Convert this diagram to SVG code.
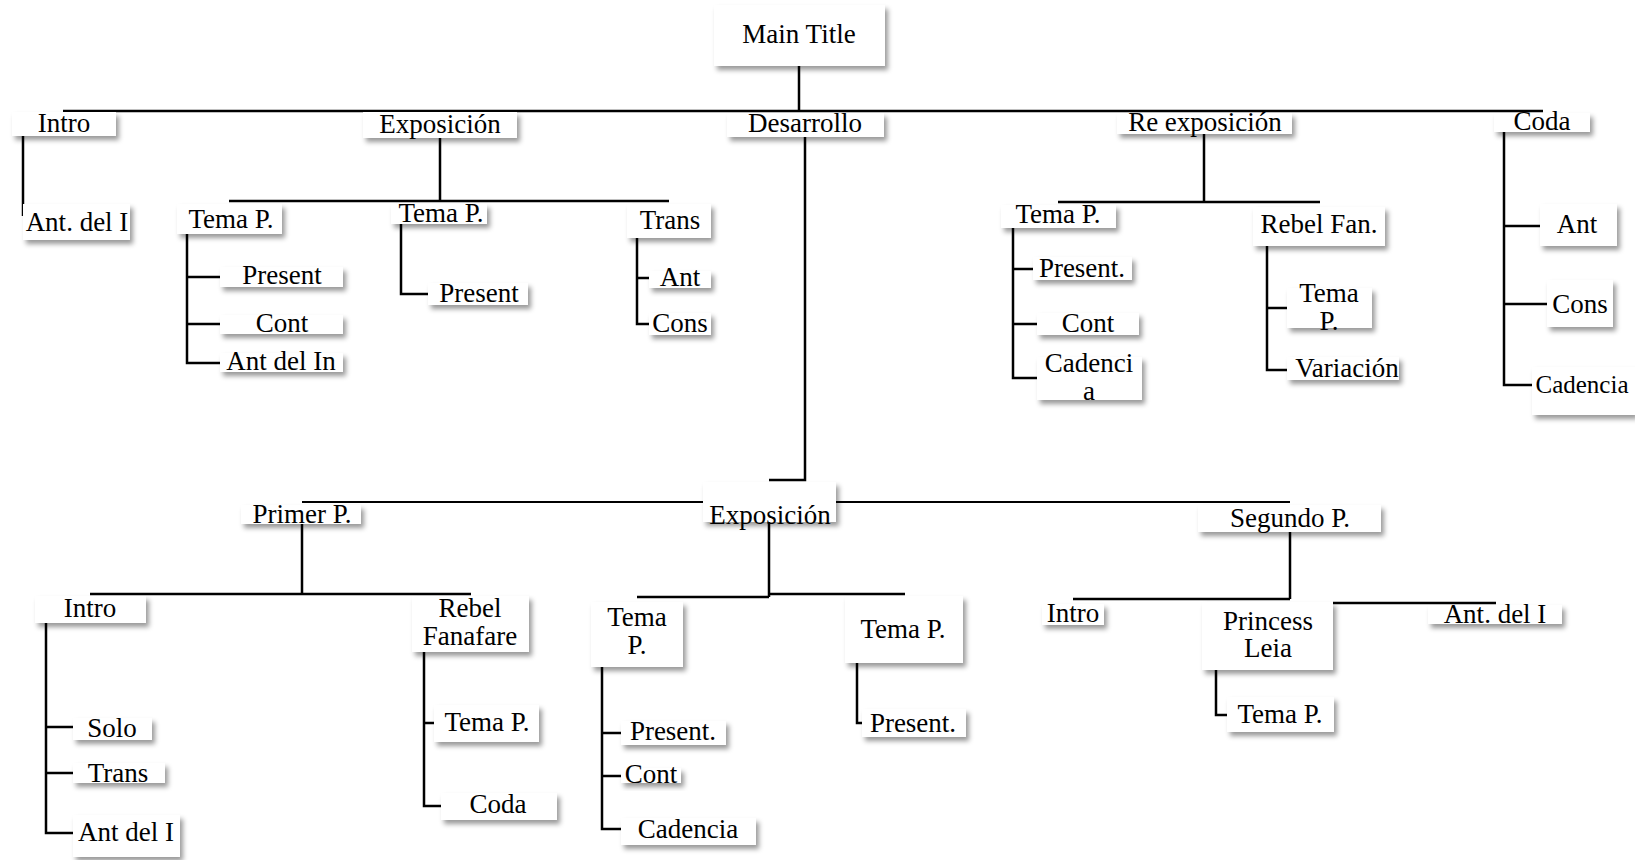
<svg xmlns="http://www.w3.org/2000/svg" width="1635" height="860" viewBox="0 0 1635 860">
<defs>
<filter id="sh" x="-20%" y="-30%" width="150%" height="180%">
<feDropShadow dx="3" dy="4" stdDeviation="2.5" flood-color="#000" flood-opacity="0.4"/>
</filter>
<style>
.n rect{fill:#fff;filter:url(#sh)}
.n text{font-family:"Liberation Serif","Times New Roman",serif;font-size:27px;fill:#000;text-anchor:middle}
.c path{fill:none;stroke:#000;stroke-width:2.5}
</style>
</defs>
<rect width="1635" height="860" fill="#fff"/>
<g id="connectors" class="c">
<path d="M799,66 V111"/>
<path d="M63,111 H1543"/>
<path d="M23,136 V216"/>
<path d="M440,138 V201 M229,201 H669"/>
<path d="M187,234 V363 H220 M187,277 H220 M187,324 H220"/>
<path d="M401,224 V294 H428"/>
<path d="M637,238 V324 H649 M637,278 H649"/>
<path d="M805,137 V480 H769"/>
<path d="M1204,134 V202 M1058,202 H1320"/>
<path d="M1013,228 V378 H1037 M1013,269 H1033 M1013,324 H1037"/>
<path d="M1267,246 V370 H1287 M1267,308 H1287"/>
<path d="M1504,132 V385 H1532 M1504,226 H1540 M1504,304 H1547"/>
<path d="M302,502 H1290" style="stroke-width:2"/>
<path d="M302,524 V594 M90,594 H471"/>
<path d="M46,623 V833 H73 M46,727 H73 M46,773 H73"/>
<path d="M424,652 V806 H441 M424,723 H434"/>
<path d="M769,522 V597 M637,597 H769 M769,594 H905"/>
<path d="M602,667 V829 H621 M602,733 H621 M602,776 H621"/>
<path d="M857,663 V723 H862"/>
<path d="M1290,532 V599 M1073,599 H1290"/>
<path d="M1333,603 H1496"/>
<path d="M1216,670 V715 H1227"/>
</g>
<g id="main" class="n"><rect x="714" y="5" width="171" height="61"/><text x="799" y="43">Main Title</text></g>
<g id="intro1" class="n"><rect x="12" y="112" width="104" height="24"/><text x="64" y="132">Intro</text></g>
<g id="antdeli1" class="n"><rect x="23" y="204" width="107" height="36"/><text x="77" y="231">Ant. del I</text></g>
<g id="expo1" class="n"><rect x="363" y="112" width="154" height="26"/><text x="440" y="133">Exposición</text></g>
<g id="temap1" class="n"><rect x="177" y="204" width="105" height="30"/><text x="231" y="228">Tema P.</text></g>
<g id="present1" class="n"><rect x="220" y="267" width="123" height="20"/><text x="282" y="284">Present</text></g>
<g id="cont1" class="n"><rect x="220" y="315" width="123" height="19"/><text x="282" y="332">Cont</text></g>
<g id="antdelin1" class="n"><rect x="220" y="353" width="123" height="19"/><text x="281" y="370">Ant del In</text></g>
<g id="temap2" class="n"><rect x="391" y="204" width="96" height="20"/><text x="441" y="222">Tema P.</text></g>
<g id="present2" class="n"><rect x="428" y="283" width="100" height="22"/><text x="479" y="302">Present</text></g>
<g id="trans1" class="n"><rect x="627" y="204" width="84" height="34"/><text x="670" y="229">Trans</text></g>
<g id="ant1" class="n"><rect x="649" y="271" width="62" height="17"/><text x="680" y="286">Ant</text></g>
<g id="cons1" class="n"><rect x="649" y="313" width="62" height="22"/><text x="680" y="332">Cons</text></g>
<g id="desarrollo" class="n"><rect x="727" y="113" width="157" height="24"/><text x="805" y="132">Desarrollo</text></g>
<g id="reexpo" class="n"><rect x="1117" y="113" width="175" height="21"/><text x="1205" y="131">Re exposición</text></g>
<g id="temap3" class="n"><rect x="1001" y="205" width="115" height="23"/><text x="1058" y="223">Tema P.</text></g>
<g id="present3" class="n"><rect x="1033" y="257" width="99" height="23"/><text x="1082" y="277">Present.</text></g>
<g id="cont3" class="n"><rect x="1037" y="313" width="102" height="22"/><text x="1088" y="332">Cont</text></g>
<g id="cadencia3" class="n"><rect x="1037" y="357" width="105" height="43"/><text x="1089" y="372">Cadenci</text><text x="1089" y="400">a</text></g>
<g id="rebelfan" class="n"><rect x="1253" y="207" width="132" height="39"/><text x="1319" y="233">Rebel Fan.</text></g>
<g id="temap4" class="n"><rect x="1287" y="288" width="85" height="40"/><text x="1329" y="302">Tema</text><text x="1329" y="330">P.</text></g>
<g id="variacion" class="n"><rect x="1287" y="357" width="112" height="23"/><text x="1347" y="377">Variación</text></g>
<g id="coda1" class="n"><rect x="1494" y="113" width="96" height="19"/><text x="1542" y="130">Coda</text></g>
<g id="ant2" class="n"><rect x="1540" y="204" width="77" height="42"/><text x="1577" y="233">Ant</text></g>
<g id="cons2" class="n"><rect x="1547" y="280" width="66" height="47"/><text x="1580" y="313">Cons</text></g>
<g id="cadencia2" class="n"><rect x="1532" y="367" width="103" height="48"/><text x="1582" y="393" style="font-size:25px">Cadencia</text></g>
<g id="expo2" class="n"><rect x="703" y="482" width="133" height="40"/><text x="770" y="524">Exposición</text></g>
<g id="primerp" class="n"><rect x="241" y="505" width="120" height="19"/><text x="302" y="523">Primer P.</text></g>
<g id="intro2" class="n"><rect x="35" y="596" width="111" height="27"/><text x="90" y="617">Intro</text></g>
<g id="solo" class="n"><rect x="73" y="718" width="79" height="22"/><text x="112" y="737">Solo</text></g>
<g id="trans2" class="n"><rect x="73" y="763" width="92" height="20"/><text x="118" y="782">Trans</text></g>
<g id="antdeli2" class="n"><rect x="73" y="815" width="107" height="42"/><text x="126" y="841">Ant del I</text></g>
<g id="rebelfanafare" class="n"><rect x="412" y="596" width="117" height="56"/><text x="470" y="617">Rebel</text><text x="470" y="645">Fanafare</text></g>
<g id="temap5" class="n"><rect x="434" y="705" width="105" height="37"/><text x="487" y="731">Tema P.</text></g>
<g id="coda2" class="n"><rect x="441" y="793" width="116" height="27"/><text x="498" y="813">Coda</text></g>
<g id="temap6" class="n"><rect x="591" y="602" width="92" height="65"/><text x="637" y="626">Tema</text><text x="637" y="654">P.</text></g>
<g id="present6" class="n"><rect x="621" y="721" width="105" height="24"/><text x="673" y="740">Present.</text></g>
<g id="cont6" class="n"><rect x="621" y="768" width="60" height="15"/><text x="651" y="783">Cont</text></g>
<g id="cadencia6" class="n"><rect x="621" y="818" width="135" height="27"/><text x="688" y="838">Cadencia</text></g>
<g id="temap7" class="n"><rect x="845" y="596" width="118" height="67"/><text x="903" y="638">Tema P.</text></g>
<g id="present7" class="n"><rect x="862" y="709" width="104" height="28"/><text x="913" y="732">Present.</text></g>
<g id="segundop" class="n"><rect x="1198" y="505" width="183" height="27"/><text x="1290" y="527">Segundo P.</text></g>
<g id="intro3" class="n"><rect x="1042" y="604" width="62" height="21"/><text x="1073" y="622">Intro</text></g>
<g id="princessleia" class="n"><rect x="1202" y="602" width="131" height="68"/><text x="1268" y="630">Princess</text><text x="1268" y="657">Leia</text></g>
<g id="antdeli3" class="n"><rect x="1428" y="605" width="134" height="19"/><text x="1495" y="623">Ant. del I</text></g>
<g id="temap8" class="n"><rect x="1227" y="697" width="107" height="35"/><text x="1280" y="723">Tema P.</text></g>
</svg>
